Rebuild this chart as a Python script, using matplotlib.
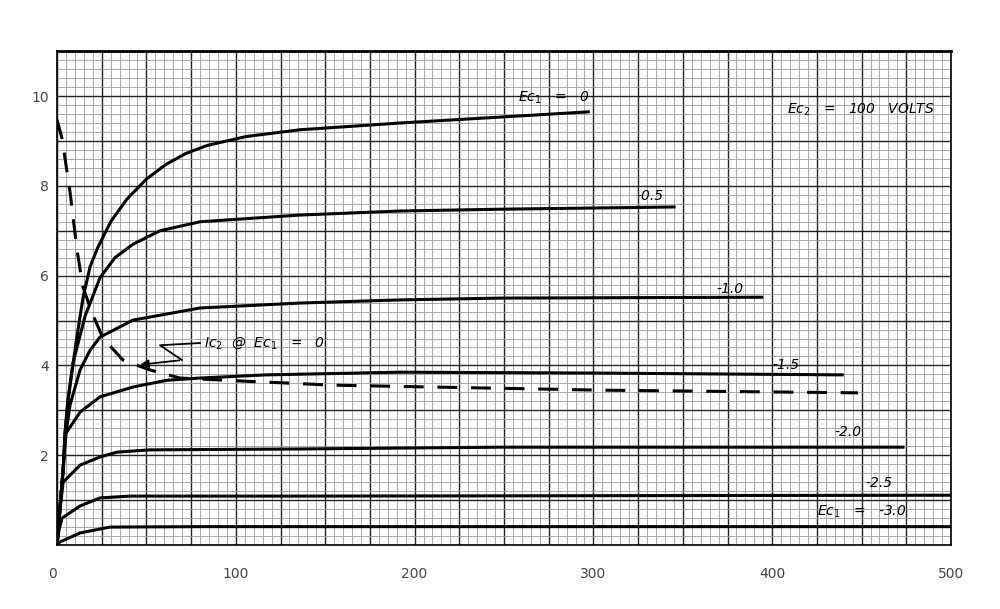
import numpy as np
import matplotlib
matplotlib.use("Agg")
import matplotlib.pyplot as plt

# plate voltage (V) / plate current (mA)
ec0_v = [0, 2, 3.5, 4.5, 6, 8.5, 11, 14.5, 18.5, 22.5, 30, 39, 50, 61, 72, 84, 106, 136, 192, 298]
ec0_i = [0, 1.0, 1.7, 2.5, 3.2, 3.9, 4.6, 5.5, 6.2, 6.6, 7.2, 7.7, 8.15, 8.48, 8.72, 8.9, 9.1, 9.25, 9.4, 9.65]

ec05_v = [0, 2, 3.5, 4.5, 6.2, 8.9, 15.7, 24, 32.4, 42.5, 57.6, 80, 136, 192, 248, 346]
ec05_i = [0, 1.0, 1.7, 2.5, 3.23, 4.05, 5.1, 5.95, 6.4, 6.7, 7.0, 7.2, 7.35, 7.44, 7.48, 7.53]

ec10_v = [0, 2, 3.4, 4.5, 7.3, 12.9, 18.5, 24, 42.5, 80, 136, 192, 248, 395]
ec10_i = [0, 1.0, 1.67, 2.34, 3.12, 3.9, 4.34, 4.63, 5.01, 5.28, 5.39, 5.46, 5.5, 5.52]

ec15_v = [0, 2, 3.4, 5, 12.9, 24, 42.5, 61.5, 80, 117, 192, 304, 440]
ec15_i = [0, 1.0, 1.67, 2.49, 2.96, 3.3, 3.52, 3.67, 3.72, 3.79, 3.85, 3.83, 3.79]

ec20_v = [0, 1.7, 3.4, 12.9, 24, 33.6, 52, 136, 248, 474]
ec20_i = [0, 0.78, 1.4, 1.78, 1.96, 2.07, 2.12, 2.14, 2.18, 2.18]

ec25_v = [0, 1.1, 2.8, 12.9, 24, 40.8, 136, 500]
ec25_i = [0, 0.33, 0.6, 0.87, 1.05, 1.09, 1.09, 1.11]

ec30_v = [0, 1.7, 12.9, 29.6, 80, 500]
ec30_i = [0, 0.07, 0.27, 0.4, 0.41, 0.41]

# screen grid current at Ec1 = 0 (dashed)
ic2_v = [0, 2.8, 7.3, 11.2, 14.5, 19.6, 25.7, 36.9, 52, 68.8, 105, 155.5, 304, 448]
ic2_i = [9.47, 9.06, 7.86, 6.57, 5.75, 5.17, 4.61, 4.12, 3.9, 3.72, 3.65, 3.56, 3.45, 3.39]

xticks = [0, 100, 200, 300, 400, 500]
yticks = [2, 4, 6, 8, 10]

curves = [(ec0_v, ec0_i), (ec05_v, ec05_i), (ec10_v, ec10_i), (ec15_v, ec15_i),
          (ec20_v, ec20_i), (ec25_v, ec25_i), (ec30_v, ec30_i)]

fig = plt.figure(figsize=(10, 6.09), dpi=100)
ax = fig.add_axes([0.057, 0.105, 0.894, 0.811])
ax.set_xlim(0, 500)
ax.set_ylim(0, 11)

# graph paper
for x in np.arange(0, 501, 5):
    heavy = x % 25 == 0
    ax.axvline(x, color="#222222" if heavy else "#9a9a9a",
               lw=1.0 if heavy else 0.6, zorder=1)
for y in np.arange(0, 11.01, 0.2):
    heavy = abs(y - round(y)) < 1e-6
    ax.axhline(y, color="#222222" if heavy else "#9a9a9a",
               lw=1.0 if heavy else 0.6, zorder=1)

for v, i in curves:
    ax.plot(v, i, color="black", lw=2.2, solid_capstyle="butt", zorder=3)
ax.plot(ic2_v, ic2_i, color="black", lw=2.2, ls=(0, (6.5, 4.5)), zorder=3)

for s in ax.spines.values():
    s.set_linewidth(1.2)
ax.spines["top"].set_linewidth(2)

ax.set_xticks(xticks)
ax.set_yticks(yticks)
ax.tick_params(length=0, labelsize=10, labelcolor="#444444", pad=6)
ax.tick_params(axis="x", pad=16)
ax.get_xticklabels()[0].set_horizontalalignment("right")

lbl = dict(fontsize=10, style="italic", color="black", zorder=4, va="center")
ax.text(258, 9.96, r"$Ec_1$   =   0", **lbl)
ax.text(408, 9.69, r"$Ec_2$   =   100   VOLTS", **lbl)
ax.text(324, 7.77, "-0.5", **lbl)
ax.text(369, 5.70, "-1.0", **lbl)
ax.text(400, 4.01, "-1.5", **lbl)
ax.text(435, 2.52, "-2.0", **lbl)
ax.text(452, 1.38, "-2.5", **lbl)
ax.text(425, 0.73, r"$Ec_1$   =   -3.0", **lbl)
ax.text(82, 4.50, r"$Ic_2$  @  $Ec_1$   =   0", **lbl)

# zigzag pointer to the dashed curve
zig_v = [80, 57.6, 69.9, 45]
zig_i = [4.50, 4.45, 4.12, 4.01]
ax.plot(zig_v[:-1], zig_i[:-1], color="black", lw=1.3, zorder=4)
ax.annotate("", xy=(zig_v[-1], zig_i[-1]), xytext=(zig_v[-2], zig_i[-2]),
            arrowprops=dict(arrowstyle="-|>", color="black", lw=1.3,
                            mutation_scale=12), zorder=4)

fig.savefig("out.png", dpi=100)
